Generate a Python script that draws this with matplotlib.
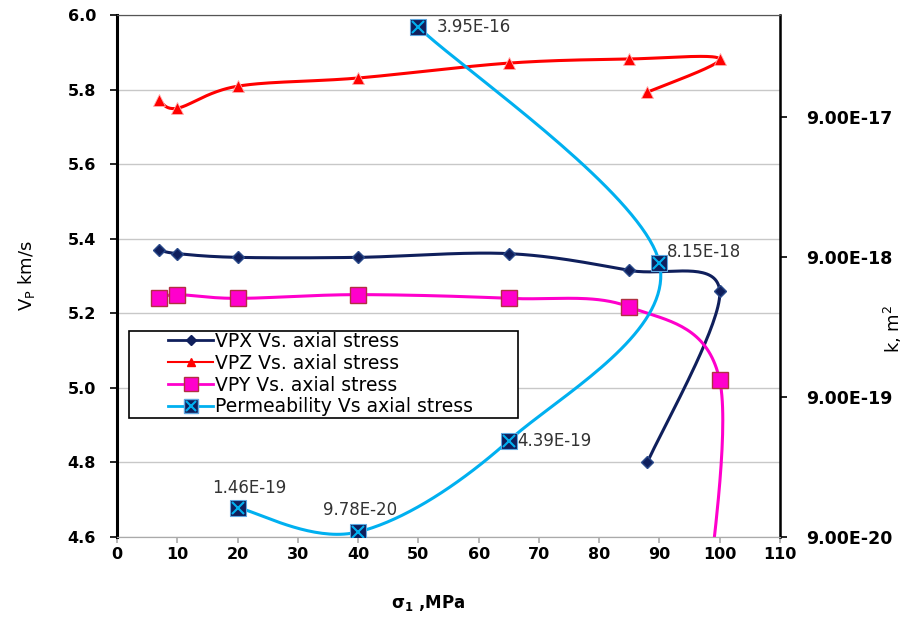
import numpy as np
import matplotlib
matplotlib.use("Agg")
import matplotlib.pyplot as plt
from matplotlib.lines import Line2D
from matplotlib.patches import Rectangle
from matplotlib.ticker import FixedLocator, NullLocator

plt.rcParams['font.family'] = ['DejaVu Sans']
plt.rcParams['ytick.major.pad'] = 10
plt.rcParams['ytick.major.size'] = 5

# data
vpx_x = [7, 10, 20, 40, 65, 85, 100, 88]
vpx_y = [5.37, 5.36, 5.35, 5.35, 5.36, 5.315, 5.26, 4.80]

vpz_x = [7, 10, 20, 40, 65, 85, 100, 88]
vpz_y = [5.772, 5.750, 5.809, 5.831, 5.871, 5.882, 5.882, 5.793]

vpy_x = [7, 10, 20, 40, 65, 85, 100, 97]
vpy_y = [5.24, 5.25, 5.24, 5.25, 5.24, 5.217, 5.02, 4.30]

perm_x = [20, 40, 65, 90, 50]
perm_k = [1.46e-19, 9.78e-20, 4.39e-19, 8.15e-18, 3.95e-16]
perm_labels = ['1.46E-19', '9.78E-20', '4.39E-19', '8.15E-18', '3.95E-16']

k_ticks = [9e-20, 9e-19, 9e-18, 9e-17]
k_tick_labels = ['9.00E-20', '9.00E-19', '9.00E-18', '9.00E-17']

XMIN, XMAX = 0, 110
YMIN, YMAX = 4.6, 6.0
KMIN = 9e-20
KMAX = KMIN * 10 ** (522 / 140)


def smooth(xs, ys, xr, yr, n=40):
    # excel-like smoothed line (catmull-rom) computed in normalised axis space
    p = np.column_stack([(np.array(xs) - xr[0]) / (xr[1] - xr[0]),
                         (np.array(ys) - yr[0]) / (yr[1] - yr[0])])
    p = np.vstack([p[0], p, p[-1]])
    out = []
    t = np.linspace(0, 1, n)[:, None]
    for i in range(1, len(p) - 2):
        p0, p1, p2, p3 = p[i - 1], p[i], p[i + 1], p[i + 2]
        c1 = p1 + (p2 - p0) / 6
        c2 = p2 - (p3 - p1) / 6
        seg = ((1 - t) ** 3) * p1 + 3 * ((1 - t) ** 2) * t * c1 + 3 * (1 - t) * t ** 2 * c2 + t ** 3 * p2
        out.append(seg)
    out = np.vstack(out)
    return (out[:, 0] * (xr[1] - xr[0]) + xr[0],
            out[:, 1] * (yr[1] - yr[0]) + yr[0])


fig = plt.figure(figsize=(9.08, 6.2), dpi=100)
ax = fig.add_axes([117 / 908, 1 - 537 / 620, 663 / 908, 522 / 620])
ax2 = ax.twinx()

navy = '#0f1f5c'
red = '#ff0000'
mag = '#ff00cc'
cyan = '#00b0f0'

for xs, ys, col in [(vpx_x, vpx_y, navy), (vpz_x, vpz_y, red), (vpy_x, vpy_y, mag)]:
    sx, sy = smooth(xs, ys, (XMIN, XMAX), (YMIN, YMAX))
    ax.plot(sx, sy, color=col, lw=2.2, zorder=3)

ax.plot(vpx_x, vpx_y, ls='none', marker='D', ms=6, color=navy, mec='#2a4a8a', zorder=4)
ax.plot(vpz_x, vpz_y, ls='none', marker='^', ms=8, color=red, mec='#ffb0b0', mew=0.6, zorder=4)
ax.plot(vpy_x, vpy_y, ls='none', marker='s', ms=11, color=mag, mec='#b03040', mew=1, zorder=4)

lk = np.log10(perm_k)
sx, sy = smooth(perm_x, lk, (XMIN, XMAX), (np.log10(KMIN), np.log10(KMAX)))
ax2.plot(sx, 10 ** sy, color=cyan, lw=2.2, zorder=3)
ax2.plot(perm_x, perm_k, ls='none', marker='s', ms=11, color=navy, mec='#5fa8e0', mew=0.8, zorder=4)
ax2.plot(perm_x, perm_k, ls='none', marker='x', ms=8, color=cyan, mew=1.5, zorder=5)

offsets = [(8.6, 14.4), (1.4, 16), (6, 0), (5, 8), (13.5, 0)]
aligns = ['center', 'center', 'left', 'left', 'left']
for x, k, lab, off, al in zip(perm_x, perm_k, perm_labels, offsets, aligns):
    ax2.annotate(lab, (x, k), xytext=off, textcoords='offset points', ha=al, va='center',
                 fontsize=12, color='#333333', zorder=6)

ax.set_xlim(XMIN, XMAX)
ax.set_ylim(YMIN, YMAX)
ax.set_xticks(np.arange(0, 111, 10))
ax.set_yticks(np.arange(4.6, 6.01, 0.2))
ax.set_yticklabels(['%.1f' % v for v in np.arange(4.6, 6.01, 0.2)])
ax.grid(axis='y', color='#c8c8c8', lw=1)
ax.set_axisbelow(True)

ax2.set_yscale('log')
ax2.set_ylim(KMIN, KMAX)
ax2.yaxis.set_major_locator(FixedLocator(k_ticks))
ax2.set_yticklabels(k_tick_labels)
ax2.yaxis.set_minor_locator(NullLocator())

ax.tick_params(axis='x', labelsize=11.5, width=1.2, length=4, direction='out',
               colors='#aaaaaa', labelcolor='black')
ax.tick_params(axis='y', labelsize=11.5, width=1.2, direction='out')
ax2.tick_params(axis='y', labelsize=12.5, width=1.2, direction='out', pad=14)
for lab in ax.get_xticklabels() + ax.get_yticklabels() + ax2.get_yticklabels():
    lab.set_fontweight('bold')

ax.spines['left'].set_linewidth(2.2)
ax2.spines['right'].set_linewidth(1.8)
ax2.spines['left'].set_visible(False)
for a in (ax, ax2):
    a.spines['top'].set_color('#555555')
    a.spines['bottom'].set_color('#aaaaaa')

ax.set_ylabel('V$_\\mathregular{P}$ km/s', fontsize=13)
ax.yaxis.set_label_coords(-80 / 663, 0.5)
ax2.set_ylabel('k, m$^\\mathregular{2}$', fontsize=13)
ax2.yaxis.set_label_coords(1 + 102 / 663, (537 - 329) / 522)
ax.set_xlabel('σ$_\\mathregular{1}$ ,MPa', fontsize=12, fontweight='bold')
ax.xaxis.set_label_coords(0.47, -56 / 522)

# legend with its own box
ax2.add_patch(Rectangle((12 / 663, (537 - 418) / 522), 389 / 663, 87 / 522, transform=ax2.transAxes,
                        facecolor='white', edgecolor='black', lw=1.2, zorder=7))
handles = [
    Line2D([], [], color=navy, lw=2, marker='D', ms=5),
    Line2D([], [], color=red, lw=1.5, marker='^', ms=6),
    Line2D([], [], color=mag, lw=2, marker='s', ms=10, mec='#b03040'),
    (Line2D([], [], color=cyan, lw=2, marker='s', ms=10, mfc=navy, mec='#5fa8e0'),
     Line2D([], [], ls='none', marker='x', ms=7, color=cyan, mew=1.5)),
]
labels = ['VPX Vs. axial stress', 'VPZ Vs. axial stress', 'VPY Vs. axial stress',
          'Permeability Vs axial stress']
leg = ax2.legend(handles, labels, loc='upper left', bbox_to_anchor=(51 / 663, (537 - 332) / 522),
                 frameon=False, fontsize=13.5, handlelength=2.4, handletextpad=0.1,
                 labelspacing=0.15, borderaxespad=0, borderpad=0)
leg.set_zorder(8)

fig.savefig('out.png', dpi=100, facecolor='white')
